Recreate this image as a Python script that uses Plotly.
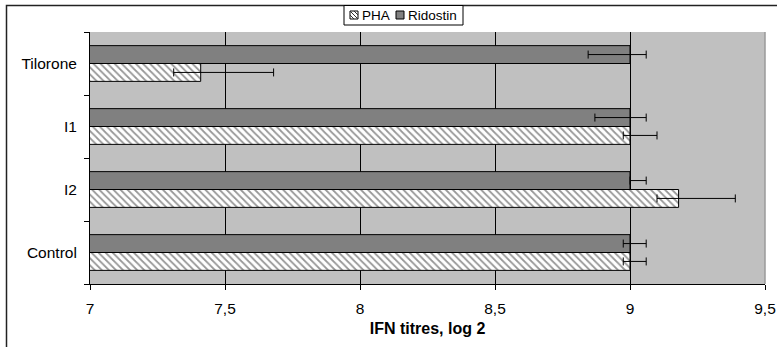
import plotly.graph_objects as go

# ---- data (bottom-to-top category order) ----
categories = ["Control", "I2", "I1", "Tilorone"]
pha_values = [9.0, 9.18, 9.0, 7.41]
pha_err_plus = [0.06, 0.21, 0.10, 0.27]
pha_err_minus = [0.025, 0.08, 0.025, 0.10]
ridostin_values = [9.0, 9.0, 9.0, 9.0]
ridostin_err_plus = [0.06, 0.06, 0.06, 0.06]
ridostin_err_minus = [0.025, 0.0, 0.13, 0.155]
x_ticks = [7, 7.5, 8, 8.5, 9, 9.5]
series_names = ["PHA", "Ridostin"]
x_title = "IFN titres, log 2"

FONT = "Liberation Sans, Arial, sans-serif"
W, H = 777, 347
L, R, T, B = 90, 765, 32, 284  # plot area in pixels


def px(x):
    return (x - L) / (R - L)


def py(y):
    return (B - y) / (B - T)


fig = go.Figure()
fig.add_trace(go.Bar(
    name=series_names[0], y=categories, x=pha_values, orientation="h",
    marker=dict(color="white", line=dict(color="black", width=1),
                pattern=dict(shape="\\", fgcolor="#303030", bgcolor="white",
                             size=5, solidity=0.35)),
    error_x=dict(type="data", symmetric=False, array=pha_err_plus,
                 arrayminus=pha_err_minus, color="black", thickness=1, width=4),
    showlegend=False,
))
fig.add_trace(go.Bar(
    name=series_names[1], y=categories, x=ridostin_values, orientation="h",
    marker=dict(color="#808080", line=dict(color="black", width=1)),
    error_x=dict(type="data", symmetric=False, array=ridostin_err_plus,
                 arrayminus=ridostin_err_minus, color="black", thickness=1, width=4),
    showlegend=False,
))

shapes = []
# outer chart border (right and bottom edges lie outside the picture)
shapes.append(dict(type="rect", xref="paper", yref="paper",
                   x0=px(6.5), x1=px(800), y0=py(400), y1=py(5.5),
                   line=dict(color="#222", width=1.5), fillcolor="rgba(0,0,0,0)",
                   layer="above"))
# gray right edge of plot area
shapes.append(dict(type="line", xref="paper", yref="paper",
                   x0=1, x1=1, y0=0, y1=1,
                   line=dict(color="#9a9a9a", width=1.5), layer="above"))

# custom legend box
lx0, lx1, ly0, ly1 = 344, 463, 5.5, 25
shapes.append(dict(type="rect", xref="paper", yref="paper",
                   x0=px(lx0), x1=px(lx1), y0=py(ly1), y1=py(ly0),
                   line=dict(color="black", width=1), fillcolor="white",
                   layer="above"))
# PHA symbol (hatched square)
sx0, sx1, sy0, sy1 = 350, 358, 11, 19
shapes.append(dict(type="rect", xref="paper", yref="paper",
                   x0=px(sx0), x1=px(sx1), y0=py(sy1), y1=py(sy0),
                   line=dict(color="black", width=1), fillcolor="white",
                   layer="above"))
for d in (-4, 0, 4):
    a0 = max(0, d)
    b0 = max(0, -d)
    ln = 8 - abs(d)
    shapes.append(dict(type="line", xref="paper", yref="paper",
                       x0=px(sx0 + a0), y0=py(sy0 + b0),
                       x1=px(sx0 + a0 + ln), y1=py(sy0 + b0 + ln),
                       line=dict(color="#303030", width=1), layer="above"))
# Ridostin symbol
rx0, rx1 = 396, 404
shapes.append(dict(type="rect", xref="paper", yref="paper",
                   x0=px(rx0), x1=px(rx1), y0=py(sy1), y1=py(sy0),
                   line=dict(color="black", width=1), fillcolor="#808080",
                   layer="above"))

annotations = [
    dict(text=series_names[0], xref="paper", yref="paper", x=px(360), y=py(15.5),
         xanchor="left", yanchor="middle", showarrow=False,
         font=dict(family=FONT, size=13.5, color="black")),
    dict(text=series_names[1], xref="paper", yref="paper", x=px(406), y=py(15.5),
         xanchor="left", yanchor="middle", showarrow=False,
         font=dict(family=FONT, size=13.5, color="black")),
]

fig.update_layout(
    width=W, height=H,
    margin=dict(l=L, r=W - R, t=T, b=H - B, pad=0, autoexpand=False),
    paper_bgcolor="white", plot_bgcolor="#C0C0C0",
    barmode="group", bargap=0.433, bargroupgap=0,
    separators=", ",
    font=dict(family=FONT, size=15, color="black"),
    shapes=shapes, annotations=annotations,
    showlegend=False,
)
fig.update_xaxes(
    automargin=False,
    range=[7, 9.5], tickvals=x_ticks, showgrid=True, gridcolor="black", gridwidth=1,
    showline=True, linecolor="black", linewidth=1, ticks="outside", ticklen=5,
    tickcolor="black", tickfont=dict(size=15.5), zeroline=False, ticklabelstandoff=5,
    title=dict(text=x_title, font=dict(size=16, weight="bold"), standoff=7),
)
fig.update_yaxes(
    automargin=False,
    type="category", categoryorder="array", categoryarray=categories,
    showgrid=False, showline=True, linecolor="black", linewidth=1,
    ticks="outside", ticklen=5, tickcolor="black", tickson="boundaries",
    tickfont=dict(size=15.5), ticklabelstandoff=9,
)

fig.write_html(
    "out.html",
    config={"displayModeBar": False},
    post_script="document.body.style.margin='0';document.body.style.overflow='hidden';",
)
